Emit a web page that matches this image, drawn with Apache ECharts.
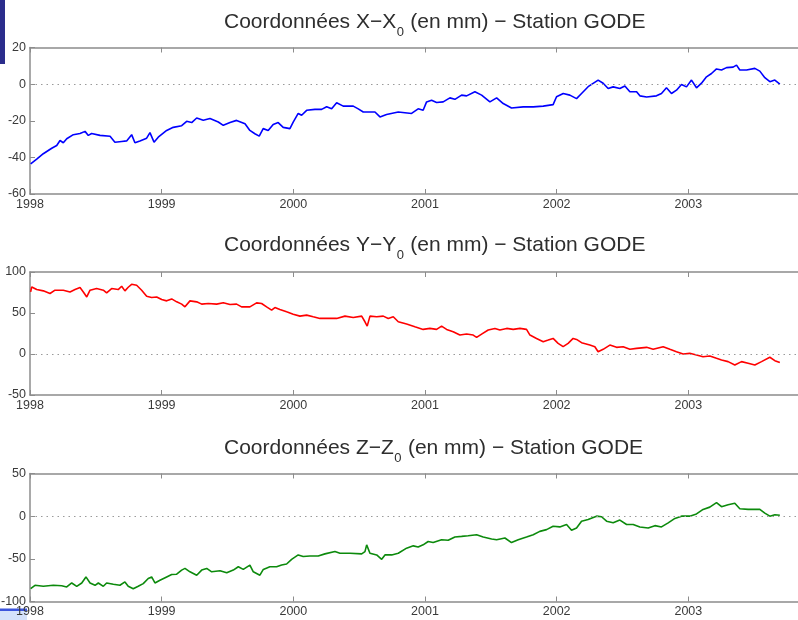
<!DOCTYPE html>
<html><head><meta charset="utf-8">
<script src="https://cdn.jsdelivr.net/npm/echarts@6/dist/echarts.min.js"></script>
<style>html,body{margin:0;padding:0;background:#fff}#c{width:798px;height:620px}</style>
</head><body><div id="c"></div>
<script>
// ---- data (decimal year, mm) ----
const xDates = [1998.005,1998.051,1998.101,1998.165,1998.203,1998.228,1998.253,1998.279,1998.329,1998.380,1998.418,1998.443,1998.468,1998.532,1998.608,1998.645,1998.696,1998.734,1998.772,1998.797,1998.835,1998.886,1998.911,1998.942,1998.974,1999.038,1999.088,1999.152,1999.190,1999.228,1999.266,1999.316,1999.367,1999.430,1999.468,1999.519,1999.569,1999.633,1999.670,1999.708,1999.741,1999.771,1999.809,1999.847,1999.885,1999.923,1999.974,1999.999,2000.037,2000.063,2000.101,2000.164,2000.215,2000.253,2000.291,2000.329,2000.379,2000.455,2000.493,2000.531,2000.620,2000.658,2000.708,2000.797,2000.898,2000.948,2000.986,2001.012,2001.050,2001.088,2001.138,2001.189,2001.227,2001.278,2001.316,2001.379,2001.430,2001.493,2001.544,2001.594,2001.657,2001.746,2001.822,2001.898,2001.973,2001.999,2002.050,2002.100,2002.151,2002.189,2002.239,2002.315,2002.353,2002.391,2002.429,2002.480,2002.518,2002.556,2002.607,2002.632,2002.683,2002.758,2002.796,2002.834,2002.872,2002.910,2002.948,2002.986,2003.024,2003.062,2003.100,2003.138,2003.176,2003.214,2003.252,2003.290,2003.340,2003.366,2003.391,2003.442,2003.505,2003.543,2003.581,2003.619,2003.657,2003.695];
const xValues = [-43.6,-41,-38,-35,-33.5,-30.8,-32,-29.8,-27.6,-27,-25.8,-28,-27,-28,-28.5,-31.7,-31.3,-31,-27.6,-32,-31,-29.5,-26.5,-31.7,-29,-25.3,-23.6,-22.7,-20.3,-21,-18.5,-19.7,-18.8,-20.7,-22.5,-21,-19.8,-21.6,-25.3,-27.1,-28.4,-24.3,-25.3,-22,-21,-23.6,-24.3,-20.7,-16,-17,-14.3,-13.8,-13.8,-12.4,-13.5,-10.2,-12,-12,-13.5,-15.2,-15.2,-17.9,-16.6,-15.2,-16,-13.5,-14.3,-9.7,-8.8,-10,-9.7,-7.5,-8.3,-6,-6.4,-4.2,-6,-9.7,-7.5,-10.6,-13,-12.4,-12.4,-12,-11.2,-6.9,-5.1,-6,-7.9,-5.1,-1.4,2.2,0.5,-2.4,-1.5,-2.4,-1,-4.2,-4.2,-6.4,-7,-6.4,-5.1,-2,-5.1,-3.3,-0.2,-1.5,2.2,-2,0.5,4,5.8,8.3,7.7,9,9.3,10.4,7.7,7.7,8.6,7.1,3.5,1.3,2.2,0];

const yDates = [1998.005,1998.013,1998.051,1998.101,1998.152,1998.190,1998.253,1998.304,1998.342,1998.380,1998.405,1998.431,1998.456,1998.506,1998.557,1998.582,1998.620,1998.670,1998.696,1998.721,1998.746,1998.772,1998.810,1998.848,1998.886,1998.924,1998.962,1999.000,1999.038,1999.076,1999.114,1999.152,1999.177,1999.215,1999.266,1999.304,1999.354,1999.418,1999.468,1999.519,1999.569,1999.607,1999.670,1999.721,1999.759,1999.797,1999.835,1999.860,1999.898,1999.949,1999.999,2000.050,2000.101,2000.151,2000.202,2000.265,2000.329,2000.392,2000.455,2000.519,2000.544,2000.561,2000.582,2000.633,2000.683,2000.721,2000.759,2000.797,2000.860,2000.923,2000.986,2001.037,2001.088,2001.126,2001.164,2001.214,2001.265,2001.316,2001.366,2001.392,2001.430,2001.480,2001.531,2001.569,2001.620,2001.670,2001.721,2001.771,2001.797,2001.847,2001.898,2001.936,2001.973,2002.011,2002.049,2002.087,2002.125,2002.151,2002.189,2002.252,2002.290,2002.315,2002.353,2002.404,2002.455,2002.505,2002.556,2002.607,2002.683,2002.733,2002.809,2002.860,2002.910,2002.961,2003.011,2003.062,2003.112,2003.163,2003.214,2003.252,2003.302,2003.353,2003.404,2003.454,2003.505,2003.556,2003.619,2003.657,2003.695];
const yValues = [75.7,81.8,78.6,77,73.8,77.8,77.8,75.7,78.6,81,75.7,69.6,77.8,79.8,77.8,74.5,79.8,78.6,82.6,77,81.4,85,83.8,77.8,70.5,68.9,69.6,66.4,64.8,67.2,63.6,60.8,57.5,64.8,63.6,60.8,61.6,60.8,62.4,60.4,60.8,57.5,57.5,62.4,61.6,57.5,53.5,56.7,54.3,51.4,48.6,46.2,47.4,45.4,43.4,43.4,43.4,46.2,44.6,46.2,39.3,34,46.2,45.4,46.2,43.4,45.4,39.3,36.5,33.2,30,31.2,30,34,30,27.1,23.1,24.3,23.1,20.3,24.3,29.2,31.2,29.2,31.2,30,31.2,30,23.1,19,15,17,19,13,8.9,13,19,17.8,13.8,10.9,8.9,2.8,5.7,10.9,8.1,8.9,5.7,6.9,8.1,5.7,8.9,5.7,2.8,0,0.8,-1.2,-3.3,-2.4,-5.3,-7.3,-9.3,-13.4,-9.3,-11.3,-13.4,-9.3,-4,-8.1,-10.5];

const zDates = [1998.005,1998.038,1998.101,1998.177,1998.241,1998.279,1998.317,1998.355,1998.393,1998.425,1998.456,1998.494,1998.519,1998.557,1998.582,1998.633,1998.683,1998.721,1998.746,1998.784,1998.822,1998.860,1998.898,1998.924,1998.949,1998.987,1999.038,1999.076,1999.114,1999.152,1999.177,1999.215,1999.266,1999.304,1999.342,1999.380,1999.443,1999.494,1999.544,1999.582,1999.620,1999.670,1999.696,1999.746,1999.772,1999.822,1999.873,1999.911,1999.949,1999.987,2000.037,2000.075,2000.126,2000.189,2000.240,2000.316,2000.354,2000.430,2000.519,2000.544,2000.557,2000.582,2000.633,2000.671,2000.696,2000.747,2000.797,2000.860,2000.911,2000.948,2000.986,2001.024,2001.062,2001.126,2001.176,2001.227,2001.278,2001.328,2001.392,2001.442,2001.506,2001.544,2001.607,2001.657,2001.708,2001.771,2001.822,2001.872,2001.923,2001.973,2002.024,2002.075,2002.113,2002.151,2002.189,2002.239,2002.303,2002.341,2002.379,2002.429,2002.480,2002.531,2002.581,2002.632,2002.695,2002.746,2002.796,2002.847,2002.898,2002.948,2003.011,2003.062,2003.112,2003.163,2003.214,2003.252,2003.302,2003.353,2003.391,2003.454,2003.543,2003.581,2003.619,2003.657,2003.695];
const zValues = [-85,-81,-82.2,-81,-81.6,-83,-78.3,-82.2,-78.3,-71.2,-78.3,-81,-78.3,-82.2,-78.3,-79.7,-81,-77.1,-82.2,-85,-82.2,-79,-73.1,-71.2,-78.3,-75.1,-71.2,-68.4,-68,-63.2,-61.2,-65.2,-69.2,-63.2,-61.2,-65.2,-64,-66.4,-63.2,-59.3,-62.4,-57.3,-65.2,-69.2,-62.4,-59.3,-59.3,-57.3,-56.1,-50.6,-45.4,-47.3,-46.6,-46.6,-44.2,-41.5,-43.4,-43.4,-44.2,-41.5,-33.6,-43.4,-45.4,-50.6,-45.4,-45.4,-43.4,-37.5,-34.8,-36.1,-33.6,-29.7,-30.9,-27.6,-28.3,-24.4,-23.7,-23,-21.7,-24.4,-26.8,-27.6,-25.6,-30.9,-27.6,-24.4,-21.7,-17.8,-15.8,-11.9,-12.6,-9.8,-16.6,-13.9,-5.9,-3.9,0,-0.7,-5.9,-7.8,-4.6,-9.8,-9.8,-12.6,-13.9,-11.1,-12.6,-7.8,-2.6,0,0,2.6,7.9,10.6,15.9,11.1,13.4,15.1,8.7,8,8,3.6,0,1.6,1];

const coordNames = ['X', 'Y', 'Z'];
const yearRange = [1998, 2004];
const yRanges = [[-60, 20, 20], [-50, 100, 50], [-100, 50, 50]];
const seriesColors = ['#0000ff', '#ff0000', '#0c8a0c'];
const allDates = [xDates, yDates, zDates];
const allValues = [xValues, yValues, zValues];

// ---- layout ----
const grids = [
  { left: 30, top: 47.5, width: 790, height: 146.5 },
  { left: 30, top: 272, width: 790, height: 123 },
  { left: 30, top: 473.5, width: 790, height: 128 }
];
const titleCenters = [22.3, 244.8, 448.2];
const FONT = '"Liberation Sans", Arial, Helvetica, sans-serif';
const TITLE_SIZE = 21, SUB_SIZE = 13;
const axisColor = '#8c8c8c';
const labelColor = '#3a3a3a';
const titleColor = '#2e2e2e';

const mc = document.createElement('canvas').getContext('2d');
function textWidth(t, size) { mc.font = size + 'px ' + FONT; return mc.measureText(t).width; }

const xAxes = [], yAxes = [], series = [], graphics = [];
grids.forEach((g, i) => {
  const base = {
    type: 'value', gridIndex: i, min: yearRange[0], max: yearRange[1], interval: 1,
    axisLine: { show: true, onZero: false, lineStyle: { color: axisColor, width: 1.5 } },
    axisTick: { show: true, inside: true, length: 5, lineStyle: { color: axisColor, width: 1 } },
    splitLine: { show: false }
  };
  xAxes.push(Object.assign({}, base, {
    position: 'bottom',
    axisLabel: { show: true, margin: 4, fontSize: 12.5, color: labelColor, fontFamily: FONT,
      showMinLabel: true, formatter: v => String(Math.round(v)) }
  }));
  xAxes.push(Object.assign({}, base, { position: 'top', axisLabel: { show: false } }));
  const r = yRanges[i];
  yAxes.push({
    type: 'value', gridIndex: i, min: r[0], max: r[1], interval: r[2],
    axisLine: { show: true, onZero: false, lineStyle: { color: axisColor, width: 1.5 } },
    axisTick: { show: true, inside: true, length: 5, lineStyle: { color: axisColor, width: 1 } },
    axisLabel: { show: true, margin: 4, fontSize: 12.5, color: labelColor, fontFamily: FONT,
      showMinLabel: true, showMaxLabel: true },
    splitLine: { show: false }
  });
  series.push({
    type: 'line', xAxisIndex: i * 2, yAxisIndex: i,
    data: allDates[i].map((d, k) => [d, allValues[i][k]]),
    showSymbol: false, symbol: 'none',
    lineStyle: { color: seriesColors[i], width: 1.6 },
    markLine: {
      silent: true, symbol: ['none', 'none'], label: { show: false },
      lineStyle: { color: '#9a9a9a', type: [1.5, 4], width: 1 },
      data: [{ yAxis: 0 }], animation: false
    },
    animation: false
  });
  const n = coordNames[i];
  const part1 = 'Coordonnées ' + n + '−' + n;
  const part3 = ' (en mm) − Station GODE';
  const x0 = 224;
  const w1 = textWidth(part1, TITLE_SIZE);
  const w2 = textWidth('0', SUB_SIZE);
  const cy = titleCenters[i];
  const common = { fontFamily: FONT, fill: titleColor, align: 'left', verticalAlign: 'middle' };
  graphics.push({ type: 'text', x: x0, y: cy, style: Object.assign({ text: part1, fontSize: TITLE_SIZE }, common) });
  graphics.push({ type: 'text', x: x0 + w1 + 0.5, y: cy + 10.5, style: Object.assign({ text: '0', fontSize: SUB_SIZE }, common) });
  graphics.push({ type: 'text', x: x0 + w1 + w2 + 1, y: cy, style: Object.assign({ text: part3, fontSize: TITLE_SIZE }, common) });
});
// corner decorations
graphics.push({ type: 'rect', x: 0, y: 0, shape: { x: 0, y: 0, width: 5, height: 64 }, style: { fill: '#2b2d8c' } });
graphics.push({ type: 'rect', x: 0, y: 0, shape: { x: 0, y: 611, width: 27, height: 9 }, style: { fill: '#d4e2fb' } });
graphics.push({ type: 'rect', x: 0, y: 0, shape: { x: 0, y: 608.5, width: 27, height: 2.5 }, style: { fill: '#3b55dd' } });

const chart = echarts.init(document.getElementById('c'), null, { renderer: 'canvas' });
chart.setOption({
  animation: false,
  backgroundColor: '#ffffff',
  grid: grids.map(g => Object.assign({ containLabel: false, outerBoundsMode: 'none' }, g)),
  xAxis: xAxes,
  yAxis: yAxes,
  series: series,
  graphic: graphics
});
</script></body></html>
